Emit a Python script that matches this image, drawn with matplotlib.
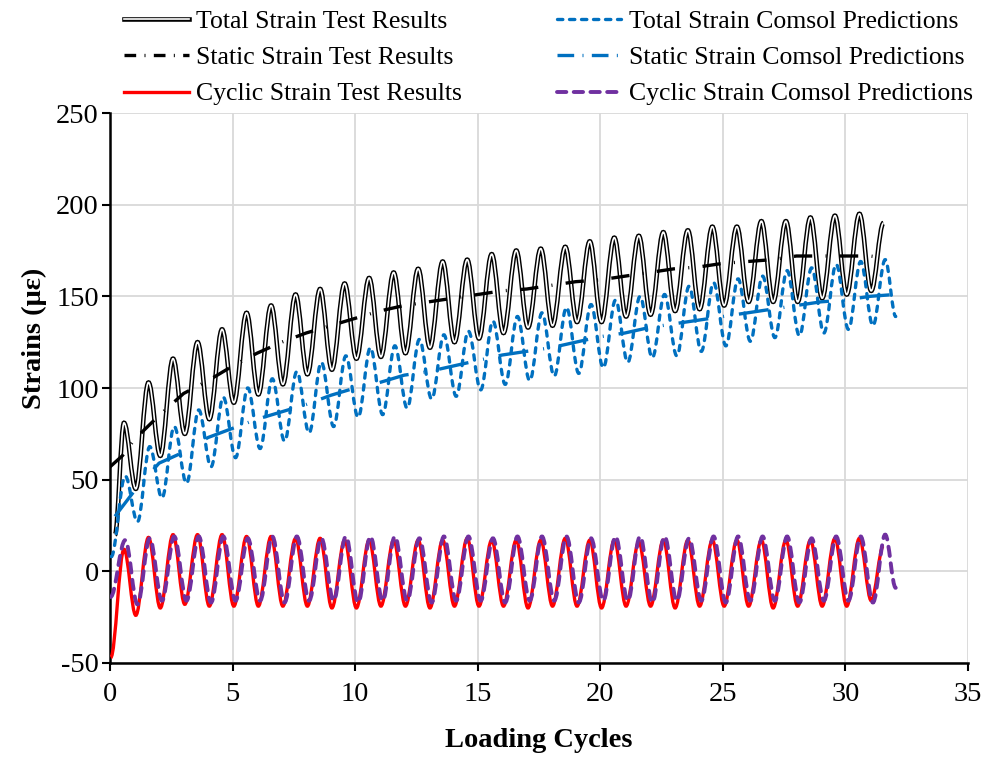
import numpy as np
import matplotlib
matplotlib.use('Agg')
import matplotlib.pyplot as plt
from matplotlib.path import Path
from matplotlib.patches import PathPatch
from matplotlib.lines import Line2D
import matplotlib.patheffects as pe

plt.rcParams['font.family'] = 'serif'
plt.rcParams['font.serif'] = ['Liberation Serif', 'DejaVu Serif']
plt.rcParams['axes.unicode_minus'] = False

# ── data ──
# oscillating series: one peak and one trough per loading cycle
test_peak_phase, test_trough_phase = 0.57, 0.05
comsol_peak_phase, comsol_trough_phase = 0.62, 0.12

total_test_start = (0.2, 20)
total_test_end = (31.55, 190)
total_test_peaks = [81, 103, 116, 125, 132, 141, 145, 151, 154, 157, 160, 163, 165,
                    169, 170, 173, 175, 176, 177, 180, 182, 183, 185, 186, 188, 188,
                    191, 191, 193, 194, 195]
total_test_troughs = [45, 63, 75, 83, 92, 96.5, 102, 107.5, 110, 116, 117, 119, 122,
                      125, 127, 130, 133, 134, 136, 136, 139, 140, 142, 143, 145, 147,
                      147, 147, 149, 151, 153]

total_comsol_start = (0.05, 8)
total_comsol_end = (32.05, 139)
total_comsol_peaks = [52, 68, 79, 88, 95, 100, 105, 109, 114, 117.5, 122, 123, 126.5,
                      129, 131, 136.5, 139, 141, 144, 145.5, 148, 150, 151, 155.5, 157.5,
                      159.5, 161, 164, 165.5, 167.5, 169, 170]
total_comsol_troughs = [27, 40, 48, 57, 62, 67, 71, 75.5, 79, 84, 85.5, 89, 94, 95.5,
                        99, 102, 104, 106.5, 108, 111, 114, 116.5, 117.5, 120, 123, 125.5,
                        127.5, 128.5, 130, 132, 134]

cyclic_test_start = (0.03, -47)
cyclic_test_end = (31.55, 14)
cyclic_test_peaks = [12, 18.5, 20, 20, 20, 19, 19, 18, 18, 17, 17, 17, 17, 17, 18, 17,
                     17, 17, 18, 17, 17, 16, 17, 17, 17, 17, 17, 17, 17, 18, 18]
cyclic_test_troughs = [-24, -20, -18, -19, -19, -19, -19, -19, -20, -20, -19, -19, -20,
                       -19, -19, -19, -20, -19, -19, -20, -19, -19, -20, -19, -19, -19,
                       -20, -19, -19, -19, -16]

cyclic_comsol_start = (0.02, -14)
cyclic_comsol_end = (32.05, -9)
cyclic_comsol_peaks = [17, 18, 19, 19, 19, 18, 19, 19, 18, 19, 19, 19, 18, 19, 19, 18,
                       19, 19, 19, 18, 19, 19, 19, 18, 19, 19, 19, 19, 18, 19, 19, 20]
cyclic_comsol_troughs = [-18, -16, -16, -17, -16, -16, -17, -16, -16, -17, -16, -16, -17,
                         -16, -16, -17, -16, -16, -17, -16, -16, -17, -16, -16, -17, -16,
                         -16, -17, -16, -16, -17]

# smooth (static) series
static_test_x = [0, 0.5, 1, 2, 3, 4, 5, 6, 7, 8, 9, 10, 11, 12, 13, 14, 15, 16, 17, 18,
                 19, 20, 21, 22, 23, 24, 25, 26, 27, 28, 29, 30, 31, 31.6]
static_test_y = [57, 63, 72, 85, 97, 104, 112, 119, 125, 130, 134, 138, 142, 145, 147,
                 149, 151, 153, 154, 156, 158, 159, 161, 163, 165, 166, 168, 169, 170,
                 172, 172, 172, 172, 171]
static_comsol_x = [0.2, 1, 2, 3, 4, 5, 6, 7, 8, 9, 10, 11, 12, 13, 14, 15, 16, 17, 18,
                   19, 20, 21, 22, 23, 24, 25, 26, 27, 28, 29, 30, 31, 32]
static_comsol_y = [30, 44, 59, 65, 73, 78, 83, 87, 91, 96, 100, 103, 107, 109, 112, 115,
                   118, 120, 122, 125, 128, 130, 133, 135, 137, 139, 141, 143, 145, 147,
                   148, 150, 151]

# legend order is column-major (left column = test results)
labels = ['Total Strain Test Results', 'Static Strain Test Results',
          'Cyclic Strain Test Results', 'Total Strain Comsol Predictions',
          'Static Strain Comsol Predictions', 'Cyclic Strain Comsol Predictions']

BLUE, RED, PURPLE = '#0070C0', '#FF0000', '#7030A0'


def extrema(start, end, peaks, troughs, p_phase, t_phase):
    xs, ys = [start[0]], [start[1]]
    for n, pk in enumerate(peaks):
        xs.append(n + p_phase)
        ys.append(pk)
        if n < len(troughs):
            xs.append(n + 1 + t_phase)
            ys.append(troughs[n])
    xs.append(end[0])
    ys.append(end[1])
    return xs, ys


def wave_path(xs, ys, k=0.36):
    # cubic bezier between extrema with flat tangents -> sine-like wave
    verts = [(xs[0], ys[0])]
    codes = [Path.MOVETO]
    for x0, y0, x1, y1 in zip(xs[:-1], ys[:-1], xs[1:], ys[1:]):
        dx = x1 - x0
        verts += [(x0 + k * dx, y0), (x1 - k * dx, y1), (x1, y1)]
        codes += [Path.CURVE4] * 3
    return Path(verts, codes)


fig = plt.figure(figsize=(9.86, 7.57), dpi=100)
ax = fig.add_axes([0.1116, 0.1242, 0.8702, 0.7265])

double_fx = [pe.Stroke(linewidth=3.3, foreground='black'), pe.Normal()]
dash_blue = (0, (1.6, 2.0))
dash_purple = (0, (2.4, 1.9))
dashdot_black = (0, (5.5, 4.0, 0.3, 4.0))
dashdot_blue = (0, (9, 4.5, 0.3, 4.5))

# total strain test (double line)
xs, ys = extrema(total_test_start, total_test_end, total_test_peaks,
                 total_test_troughs, test_peak_phase, test_trough_phase)
ax.add_patch(PathPatch(wave_path(xs, ys), fill=False, edgecolor='white', lw=1.2,
                       path_effects=double_fx, zorder=3))

# static strain test
ax.plot(static_test_x, static_test_y, color='black', lw=2.4, linestyle=dashdot_black,
        dash_capstyle='butt', zorder=4)

# total strain comsol
xs, ys = extrema(total_comsol_start, total_comsol_end, total_comsol_peaks,
                 total_comsol_troughs, comsol_peak_phase, comsol_trough_phase)
ax.add_patch(PathPatch(wave_path(xs, ys), fill=False, edgecolor=BLUE, lw=2.4,
                       linestyle=dash_blue, capstyle='round', zorder=5))

# static strain comsol
ax.plot(static_comsol_x, static_comsol_y, color=BLUE, lw=2.4, linestyle=dashdot_blue,
        dash_capstyle='butt', zorder=6)

# cyclic strain test
xs, ys = extrema(cyclic_test_start, cyclic_test_end, cyclic_test_peaks,
                 cyclic_test_troughs, test_peak_phase, test_trough_phase)
ax.add_patch(PathPatch(wave_path(xs, ys), fill=False, edgecolor=RED, lw=2.4, zorder=7))

# cyclic strain comsol
xs, ys = extrema(cyclic_comsol_start, cyclic_comsol_end, cyclic_comsol_peaks,
                 cyclic_comsol_troughs, comsol_peak_phase, comsol_trough_phase)
ax.add_patch(PathPatch(wave_path(xs, ys), fill=False, edgecolor=PURPLE, lw=2.8,
                       linestyle=dash_purple, capstyle='round', zorder=8))

# ── axes ──
ax.set_xlim(0, 35)
ax.set_ylim(-50, 250)
ax.set_xticks(np.arange(0, 36, 5))
ax.set_yticks(np.arange(-50, 251, 50))
ax.grid(True, color='#d9d9d9', lw=1.3, zorder=0)
ax.set_axisbelow(True)
for s in ['top', 'right']:
    ax.spines[s].set_visible(False)
for s in ['left', 'bottom']:
    ax.spines[s].set_linewidth(1.8)
ax.tick_params(labelsize=20.5, direction='out', length=6, width=1.5)
ax.tick_params(axis='x', pad=8)
ax.tick_params(axis='y', pad=2)
ax.set_xlabel('Loading Cycles', fontsize=20.5, fontweight='bold', labelpad=15)
ax.set_ylabel('Strains (με)', fontsize=20.5, fontweight='bold')
ax.yaxis.set_label_coords(-0.074, 0.59)

# ── legend ──
handles = [
    Line2D([], [], color='white', lw=1.2, path_effects=double_fx),
    Line2D([], [], color='black', lw=2.4, linestyle=(0, (3.5, 2.5, 0.3, 2.5))),
    Line2D([], [], color=RED, lw=2.4),
    Line2D([], [], color=BLUE, lw=2.4, linestyle=dash_blue, dash_capstyle='round'),
    Line2D([], [], color=BLUE, lw=2.4, linestyle=(0, (5, 2.5, 0.3, 2.5))),
    Line2D([], [], color=PURPLE, lw=2.8, linestyle=dash_purple, dash_capstyle='round'),
]
fig.legend(handles, labels, ncol=2, loc='upper left', bbox_to_anchor=(0.113, 1.004),
           frameon=False, fontsize=18.5, handlelength=2.5, handletextpad=0.3,
           columnspacing=3.7, labelspacing=0.52, borderpad=0)

plt.savefig('out.png', dpi=100, facecolor='white')
